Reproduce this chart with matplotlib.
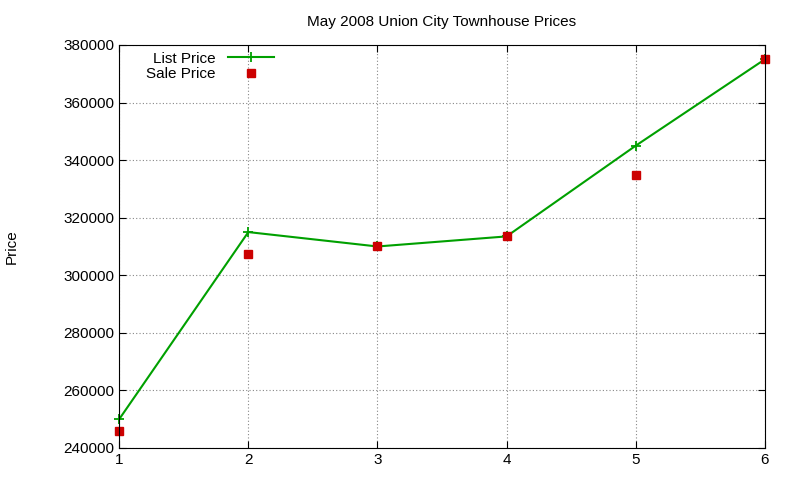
import matplotlib
matplotlib.use("Agg")
import matplotlib.pyplot as plt

plt.rcParams['font.family'] = ['Liberation Sans', 'DejaVu Sans']

x = [1, 2, 3, 4, 5, 6]
list_price = [250000, 315000, 310000, 313500, 345000, 375000]
sale_price = [246000, 307500, 310000, 313500, 335000, 375000]
yticks = [240000, 260000, 280000, 300000, 320000, 340000, 360000, 380000]

fig = plt.figure(figsize=(8, 4.8), dpi=100)
ax = fig.add_axes([0.149, 0.0667, 0.807, 0.8396])
l1, = ax.plot(x, list_price, color='#00a000', lw=1.5, marker='+', ms=7, mew=1.3, label='List Price', clip_on=False)
l2, = ax.plot(x, sale_price, ls='none', marker='s', color='#cc0000', ms=5.5, label='Sale Price', clip_on=False)
ax.set_xlim(1, 6)
ax.set_ylim(240000, 380000)
ax.set_xticks(x)
ax.set_yticks(yticks)
ax.tick_params(labelsize=11, direction='in', length=5, top=True, right=True)
ax.grid(True, ls=(0, (1, 2)), color='#888888', lw=0.8)
ax.set_title('May 2008 Union City Townhouse Prices', fontsize=11, pad=14)
fig.text(0.015, 0.487, 'Price', rotation=90, fontsize=11, va='center', ha='center')
ax.legend(loc='upper left', bbox_to_anchor=(0.025, 1.01), frameon=False, markerfirst=False,
          fontsize=11, handlelength=3, labelspacing=0.1, borderaxespad=0.3)
fig.savefig('out.png', dpi=100)
